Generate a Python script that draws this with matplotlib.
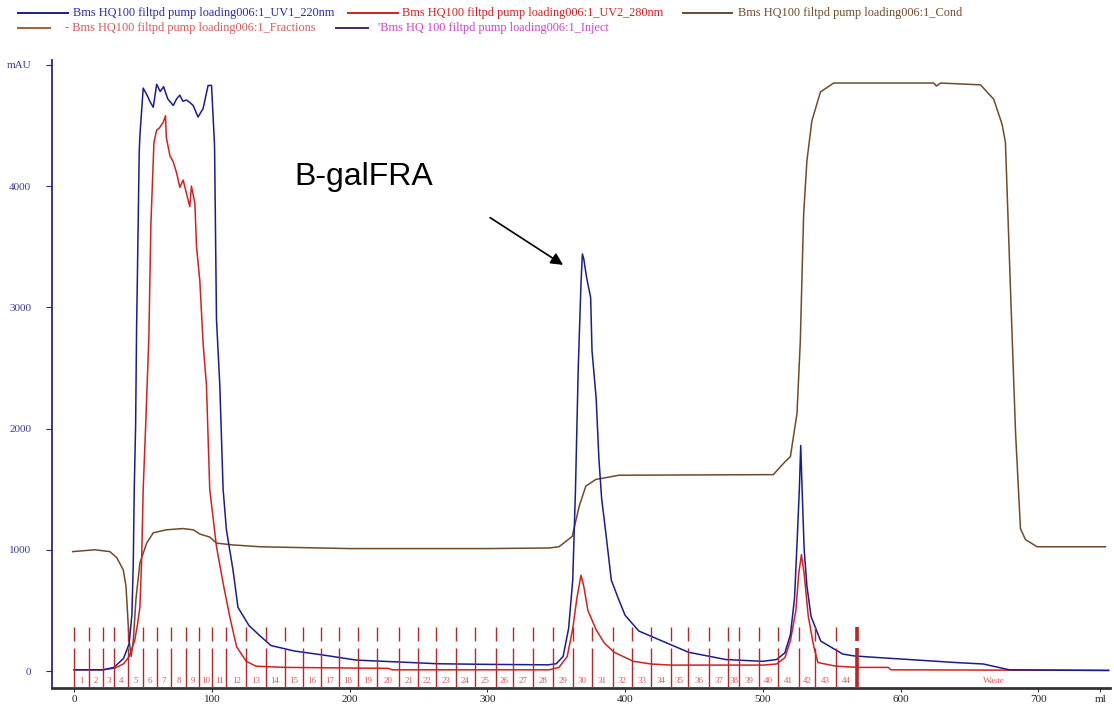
import numpy as np
import matplotlib
matplotlib.use("Agg")
import matplotlib.pyplot as plt
from matplotlib.lines import Line2D

# ── chromatogram traces (ml, mAU) ─────────────────────────────────────────────
UV1 = [(0, 10), (21, 10), (29, 30), (36, 105), (40, 225), (42, 465), (43, 890),
       (43.7, 1500), (44.7, 2025), (45.4, 2830), (45.9, 3190), (47.3, 4275),
       (47.8, 4415), (50.2, 4808), (53, 4750), (55, 4700), (57.5, 4650),
       (60, 4840), (62.5, 4780), (65, 4820), (68, 4720), (72, 4665), (74.5, 4720),
       (76.8, 4750), (79, 4700), (81.6, 4710), (84, 4690), (86.5, 4665),
       (90, 4570), (93.7, 4640), (97.3, 4830), (99.8, 4830), (102, 4330),
       (103.4, 2900), (105.8, 2360), (108.2, 1500), (110.6, 1165), (115.4, 833),
       (119, 525), (127, 375), (135, 290), (143, 210), (160, 165), (179, 135),
       (205, 90), (235, 75), (264, 60), (300, 55), (344, 51), (350, 60),
       (355, 120), (359, 350), (362, 750), (364, 1500), (366, 2500), (368, 3200),
       (369, 3440), (370, 3400), (372, 3250), (375, 3080), (376, 2640),
       (379, 2250), (381, 1750), (383, 1420), (386, 1140), (390, 750),
       (395, 600), (400, 460), (410, 330), (427, 247), (446, 155), (473, 95),
       (500, 80), (510, 95), (516, 150), (520, 300), (523, 600), (525, 1100),
       (526.5, 1500), (527.5, 1860), (528.5, 1500), (530, 1000), (532, 700),
       (535, 450), (542, 247), (558, 140), (566, 125), (577, 116), (606, 95),
       (640, 70), (660, 58), (679, 10), (751, 5)]

UV2 = [(0, 10), (21, 10), (30, 25), (36, 60), (40, 120), (44, 250), (46, 380),
       (47.8, 525), (49, 890), (50.2, 1500), (52, 2025), (54.3, 2750),
       (55.8, 3690), (58, 4360), (59.9, 4460), (62, 4480), (64.7, 4525),
       (66.4, 4580), (67, 4400), (69.6, 4250), (72, 4200), (74.4, 4110),
       (76.8, 3990), (79.2, 4050), (81.6, 3940), (84, 3830), (85.2, 4000),
       (87.7, 3860), (88.9, 3500), (91.3, 3220), (93.7, 2700), (96.1, 2360),
       (98.5, 1500), (103.4, 1025), (108.2, 725), (113, 450), (118, 200),
       (125, 80), (132, 40), (153, 30), (228, 22), (231, 10), (345, 10),
       (352, 30), (358, 120), (362, 350), (365, 600), (368, 790), (370, 700),
       (373, 500), (379, 340), (385, 230), (392, 155), (406, 80), (419, 58),
       (433, 49), (500, 49), (510, 58), (516, 110), (520, 250), (524, 500),
       (526, 800), (528, 960), (530, 800), (533, 450), (537, 200), (540, 70),
       (553, 40), (569, 30), (591, 30), (593, 10), (751, 5)]

COND = [(-1, 985), (15, 1000), (26, 985), (31, 935), (35.7, 835), (37.7, 700),
        (38.6, 525), (40, 250), (41.5, 120), (43, 250), (45, 600), (47.8, 890),
        (52.7, 1055), (57.5, 1140), (67, 1165), (79, 1175), (86.5, 1165),
        (91.3, 1130), (98.5, 1105), (103.4, 1055), (115.4, 1040), (135, 1025),
        (200, 1010), (300, 1010), (345, 1015), (352, 1025), (361.6, 1110),
        (366.7, 1360), (371.5, 1525), (378.7, 1580), (395.6, 1615),
        (507.6, 1620), (516, 1725), (520, 1769), (524.8, 2126), (527.2, 2722),
        (529.6, 3764), (532, 4210), (535.6, 4538), (541.8, 4776), (551.4, 4850),
        (624, 4850), (626, 4825), (629, 4850), (658, 4835), (667.6, 4716),
        (673.7, 4508), (676.1, 4359), (679.7, 3168), (683.4, 1977), (687, 1174),
        (690.6, 1085), (699, 1025), (748.7, 1025)]

# fraction collector boundaries (ml) and labels
FRAC_EDGES = [0, 11, 21, 29, 39.5, 50, 60, 70.5, 81, 91, 100, 110.5, 125, 139,
              153, 166, 179, 192, 206, 220, 236, 250, 263, 277, 291, 306, 319,
              333, 348, 362, 376, 391, 405, 419, 433, 446, 461, 475, 483, 497,
              511, 526, 538, 553, 568]
FRAC_LABELS = [str(i) for i in range(1, len(FRAC_EDGES))]
WASTE_AT = 668

X_TICKS = [0, 100, 200, 300, 400, 500, 600, 700, 745]
X_TICK_LABELS = ["0", "100", "200", "300", "400", "500", "600", "700", "ml"]
Y_TICKS = [0, 1000, 2000, 3000, 4000, 5000]
Y_TICK_LABELS = ["0", "1000", "2000", "3000", "4000", "mAU"]

NAVY = "#1c1c8e"
RED = "#d42020"
BROWN = "#6e4b2c"
FRAC = "#b8262a"
FRAC_TXT = "#d85a5a"
MAGENTA = "#cc44cc"
SERIF = "Liberation Serif"

W, H = 1114, 706
fig = plt.figure(figsize=(W / 100, H / 100), dpi=100, facecolor="white")
ax = fig.add_axes([52 / W, 1 - 688 / H, (1110 - 52) / W, (688 - 60) / H])
ax.set_xlim(-16, 752)
ax.set_ylim(-140, 5040)

for data, col in [(COND, BROWN), (UV2, RED), (UV1, NAVY)]:
    arr = np.array(data, float)
    ax.plot(arr[:, 0], arr[:, 1], color=col, lw=1.1, zorder=3)

# fraction marks: full line from the axis plus a short dash above
ax.vlines(FRAC_EDGES[:-1], -140, 190, color=FRAC, lw=1.0, zorder=4)
ax.vlines(FRAC_EDGES[:-1], 250, 360, color=FRAC, lw=1.0, zorder=4)
ax.vlines(FRAC_EDGES[-1], -140, 190, color=FRAC, lw=2.6, zorder=4)
ax.vlines(FRAC_EDGES[-1], 250, 360, color=FRAC, lw=2.6, zorder=4)
for a, b, lbl in zip(FRAC_EDGES[:-1], FRAC_EDGES[1:], FRAC_LABELS):
    ax.text((a + b) / 2, -85, lbl, ha="center", va="center", fontsize=6.5,
            family=SERIF, color=FRAC_TXT, zorder=5)
ax.text(WASTE_AT, -85, "Waste", ha="center", va="center", fontsize=6.5,
        family=SERIF, color=FRAC_TXT)

# annotation of the target peak
ax.text(160, 4010, "B-galFRA", fontsize=23, family="Liberation Sans",
        ha="left", va="baseline", color="black")
ax.annotate("", xy=(355, 3350), xytext=(302, 3740),
            arrowprops=dict(arrowstyle="-|>", color="black", lw=1.2,
                            mutation_scale=18, shrinkA=0, shrinkB=0))

# axes styling
for side in ("top", "right"):
    ax.spines[side].set_visible(False)
ax.spines["left"].set_color("#2a2a80")
ax.spines["left"].set_linewidth(1.3)
ax.spines["bottom"].set_color("#333333")
ax.spines["bottom"].set_linewidth(2.0)
ax.set_xticks(X_TICKS)
ax.set_xticklabels(X_TICK_LABELS, family=SERIF, fontsize=8, color="#222222")
ax.set_yticks(Y_TICKS)
ax.set_yticklabels(Y_TICK_LABELS, family=SERIF, fontsize=8, color="#3a3aa0")
ax.tick_params(axis="x", length=3, pad=2, color="#333333")
ax.tick_params(axis="y", length=4, pad=11, color="#2a2a80")

# legend rows drawn at the top of the figure
def leg_line(x0, x1, y, col):
    fig.add_artist(Line2D([x0 / W, x1 / W], [1 - y / H, 1 - y / H],
                          transform=fig.transFigure, color=col, lw=1.4))

def leg_text(x, y, s, col):
    fig.text(x / W, 1 - y / H, s, family=SERIF, fontsize=8.8, color=col,
             ha="left", va="center")

base = "Bms HQ100 filtpd pump loading006:1_"
leg_line(18, 68, 13, NAVY)
leg_text(73, 13, base + "UV1_220nm", "#2a2aa8")
leg_line(348, 398, 13, RED)
leg_text(402, 13, base + "UV2_280nm", RED)
leg_line(683, 732, 13, BROWN)
leg_text(738, 13, base + "Cond", BROWN)
leg_line(18, 50, 28, "#a0603a")
leg_text(65, 28, "- " + base + "Fractions", FRAC_TXT)
leg_line(336, 368, 28, "#4a2060")
leg_text(378, 28, "'Bms HQ 100 filtpd pump loading006:1_Inject", MAGENTA)

fig.savefig("out.png", dpi=100)
